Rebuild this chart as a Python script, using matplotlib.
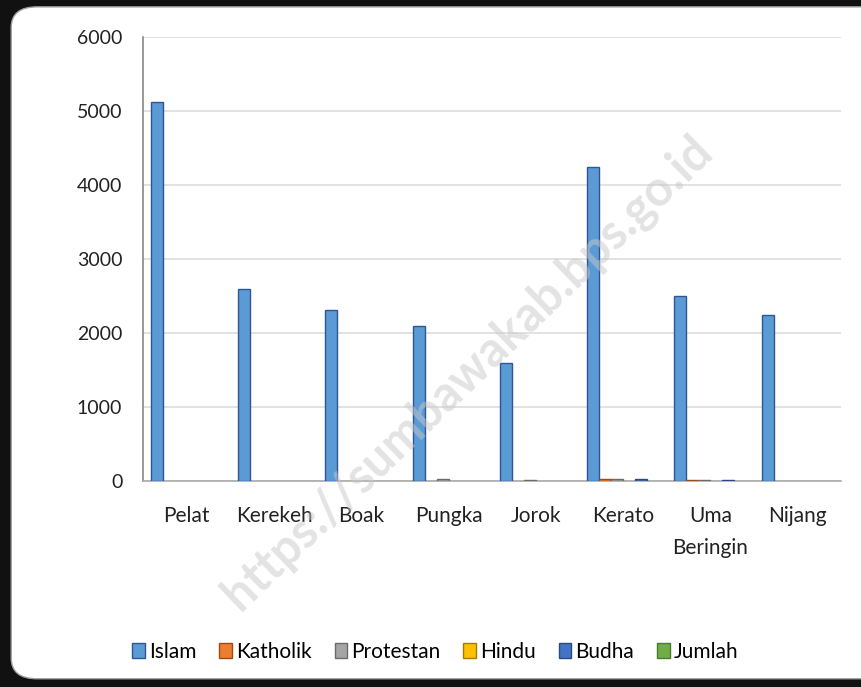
import numpy as np
import matplotlib.pyplot as plt
from matplotlib.patches import FancyBboxPatch

plt.rcParams['font.family'] = ['Lato', 'DejaVu Sans']

categories = ["Pelat", "Kerekeh", "Boak", "Pungka", "Jorok", "Kerato", "Uma\nBeringin", "Nijang"]
series_names = ["Islam", "Katholik", "Protestan", "Hindu", "Budha", "Jumlah"]
islam = [5120, 2595, 2310, 2095, 1595, 4245, 2500, 2245]
katholik = [0, 0, 0, 0, 0, 20, 10, 0]
protestan = [0, 0, 0, 25, 10, 20, 12, 0]
hindu = [0, 0, 0, 0, 0, 0, 0, 0]
budha = [0, 0, 0, 0, 0, 20, 15, 0]
jumlah = [0, 0, 0, 0, 0, 0, 0, 0]
yticks = [0, 1000, 2000, 3000, 4000, 5000, 6000]

colors = ["#5B9BD5", "#ED7D31", "#A5A5A5", "#FFC000", "#4472C4", "#70AD47"]
edges = ["#2F5597", "#9E4A14", "#6B6B6B", "#A67C00", "#2A4A80", "#4A7A2E"]

fig = plt.figure(figsize=(8.62, 6.87), dpi=100, facecolor="#111111")
# rounded white card on a dark background
card = FancyBboxPatch((0.013, 0.012), 1.05, 0.978, boxstyle="round,pad=0,rounding_size=0.03",
                      transform=fig.transFigure, facecolor="white", edgecolor="#a0a0a0",
                      linewidth=1.0, zorder=-5)
fig.patches.append(card)

ax = fig.add_axes([0.166, 0.300, 0.810, 0.646])
ax.set_facecolor("none")
ax.set_zorder(2)

x = np.arange(len(categories))
w = 0.1375
data = [islam, katholik, protestan, hindu, budha, jumlah]
for i, (name, vals) in enumerate(zip(series_names, data)):
    # zero-height bars are not drawn with an outline (like the spreadsheet)
    lw = [1.0 if v > 0 else 0 for v in vals]
    ax.bar(x + (i - 2.5) * w, vals, width=w, color=colors[i], edgecolor=edges[i],
           linewidth=lw, label=name, zorder=3)

ax.set_xlim(-0.5, len(categories) - 0.5)
ax.set_ylim(0, 6000)
ax.set_yticks(yticks)
ax.set_yticklabels([str(v) for v in yticks], fontsize=14, color="#222222")
ax.set_xticks(x)
ax.set_xticklabels(categories, fontsize=15, color="#222222", linespacing=1.75)
ax.tick_params(axis="both", length=0)
ax.tick_params(axis="x", pad=18)
ax.tick_params(axis="y", pad=15)
ax.grid(axis="y", color="#dddddd", linewidth=1.2, zorder=0)

for side in ["top", "right"]:
    ax.spines[side].set_visible(False)
ax.spines["left"].set_color("#888888")
ax.spines["bottom"].set_color("#aaaaaa")
ax.spines["left"].set_linewidth(1.2)
ax.spines["bottom"].set_linewidth(1.2)

leg = fig.legend(loc="center", bbox_to_anchor=(0.505, 0.051), ncol=6, frameon=False,
                 fontsize=15, handlelength=0.6, handleheight=0.7, handletextpad=0.2,
                 columnspacing=1.1)
for h, ec in zip(leg.legend_handles, edges):
    h.set_linewidth(1.0)
    h.set_edgecolor(ec)

fig.text(0.542, 0.457, "https://sumbawakab.bps.go.id", rotation=44, fontsize=35,
         fontweight="bold", color="#c8c8c8", alpha=0.5, ha="center", va="center",
         zorder=10)

fig.savefig("out.png", dpi=100, facecolor=fig.get_facecolor())
